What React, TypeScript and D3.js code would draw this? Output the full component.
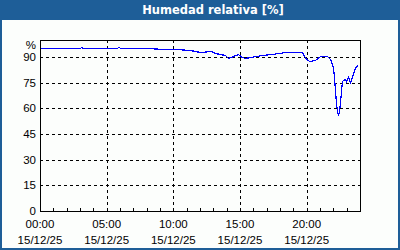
import React from "react";
import * as d3 from "d3";

const TITLE = "Humedad relativa [%]";
const Y_UNIT = "%";
const Y_TICKS = [0, 15, 30, 45, 60, 75, 90];
const X_TICKS = [0, 5, 10, 15, 20];
const X_TICK_TIME = ["00:00", "05:00", "10:00", "15:00", "20:00"];
const X_TICK_DATE = ["15/12/25", "15/12/25", "15/12/25", "15/12/25", "15/12/25"];

// time in hours since 00:00
const HOURS = [
  0, 3.0, 3.08, 3.2, 5.8, 5.86, 6.1, 7.9, 9.4, 10.1, 11.25, 12.0, 12.8, 13.1, 13.9,
  14.1, 14.5, 14.85, 15.15, 15.4, 15.75, 16.65, 17.4, 18.4, 19.5, 19.65, 19.8, 20.0,
  20.25, 20.6, 21.0, 21.2, 21.5, 21.75, 21.95, 22.05, 22.12, 22.2, 22.28, 22.36,
  22.42, 22.5, 22.6, 22.67, 22.75, 22.9, 22.97, 23.1, 23.22, 23.35, 23.48, 23.6, 23.8,
];
const HUMIDITY = [
  95.5, 95.5, 96.1, 95.5, 95.5, 96.1, 95.5, 95.6, 94.7, 94.9, 94.0, 93.2, 93.6, 92.6, 91.4,
  89.4, 90.8, 91.6, 90.2, 89.6, 90.2, 91.4, 92.1, 92.7, 92.8, 93.0, 90.6, 88.4,
  87.6, 88.3, 90.4, 90.8, 90.5, 89.0, 84.5, 78.5, 71.0, 63.0, 58.2, 56.0,
  58.2, 63.5, 70.0, 76.0, 76.6, 77.2, 76.0, 78.2, 75.6, 76.6, 80.5, 83.6, 85.4,
];

const W = 400;
const H = 250;
const M = { left: 40, right: 360, top: 40, bottom: 211 };
const FONT = "'Liberation Sans', Arial, sans-serif";
const TITLE_FONT = "'DejaVu Sans', Verdana, sans-serif";
const BLUE = "#1e5e98";

export default function App() {
  const x = d3.scaleLinear().domain([0, 24]).range([M.left, M.right]);
  const y = d3.scaleLinear().domain([0, 100]).range([M.bottom, M.top]);
  const data = HOURS.map((h, i) => [h, HUMIDITY[i]] as [number, number]);
  const line = d3
    .line<[number, number]>()
    .x((d) => Math.round(x(d[0])) + 0.5)
    .y((d) => Math.round(y(d[1])) + 0.5);
  const minor = d3.range(1, 24);

  return (
    <svg
      width={W}
      height={H}
      style={{ position: "absolute", left: 0, top: 0 }}
      fontFamily={FONT}
    >
      <rect x={0} y={0} width={W} height={H} fill={BLUE} />
      <rect x={2} y={20} width={W - 4} height={H - 22} fill="#fcfefc" />
      <text
        x={213}
        y={14}
        fill="#ffffff"
        fontSize={11.5}
        fontWeight="bold"
        textAnchor="middle"
        fontFamily={TITLE_FONT}
      >
        {TITLE}
      </text>

      {/* grid */}
      <g stroke="#000" strokeWidth={1} strokeDasharray="3,3" shapeRendering="crispEdges">
        {Y_TICKS.filter((t) => t > 0).map((t) => (
          <line key={"h" + t} x1={M.left} x2={M.right} y1={Math.round(y(t)) + 0.5} y2={Math.round(y(t)) + 0.5} />
        ))}
        {X_TICKS.filter((t) => t > 0).map((t) => (
          <line key={"v" + t} y1={M.top} y2={M.bottom} x1={Math.round(x(t)) + 0.5} x2={Math.round(x(t)) + 0.5} />
        ))}
      </g>

      {/* minor ticks */}
      <g stroke="#000" strokeWidth={1} shapeRendering="crispEdges">
        {minor.map((t) => (
          <line key={"m" + t} x1={Math.round(x(t)) + 0.5} x2={Math.round(x(t)) + 0.5} y1={M.bottom} y2={M.bottom - 3} />
        ))}
      </g>

      {/* frame */}
      <rect
        x={M.left + 0.5}
        y={M.top + 0.5}
        width={M.right - M.left}
        height={M.bottom - M.top}
        fill="none"
        stroke="#000"
        strokeWidth={1}
        shapeRendering="crispEdges"
      />

      {/* data line */}
      <path d={line(data) || ""} fill="none" stroke="#0000ff" strokeWidth={1.2} shapeRendering="crispEdges" />

      {/* y labels */}
      <g fontSize={11.5} fill="#000" textAnchor="end">
        {Y_TICKS.map((t) => (
          <text key={"yl" + t} x={36} y={y(t) + 4}>
            {t}
          </text>
        ))}
        <text x={36} y={49}>
          {Y_UNIT}
        </text>
      </g>

      {/* x labels */}
      <g fontSize={11.5} fill="#000" textAnchor="middle">
        {X_TICKS.map((t, i) => (
          <g key={"xl" + t}>
            <text x={x(t)} y={228}>
              {X_TICK_TIME[i]}
            </text>
            <text x={x(t)} y={244}>
              {X_TICK_DATE[i]}
            </text>
          </g>
        ))}
      </g>
    </svg>
  );
}
